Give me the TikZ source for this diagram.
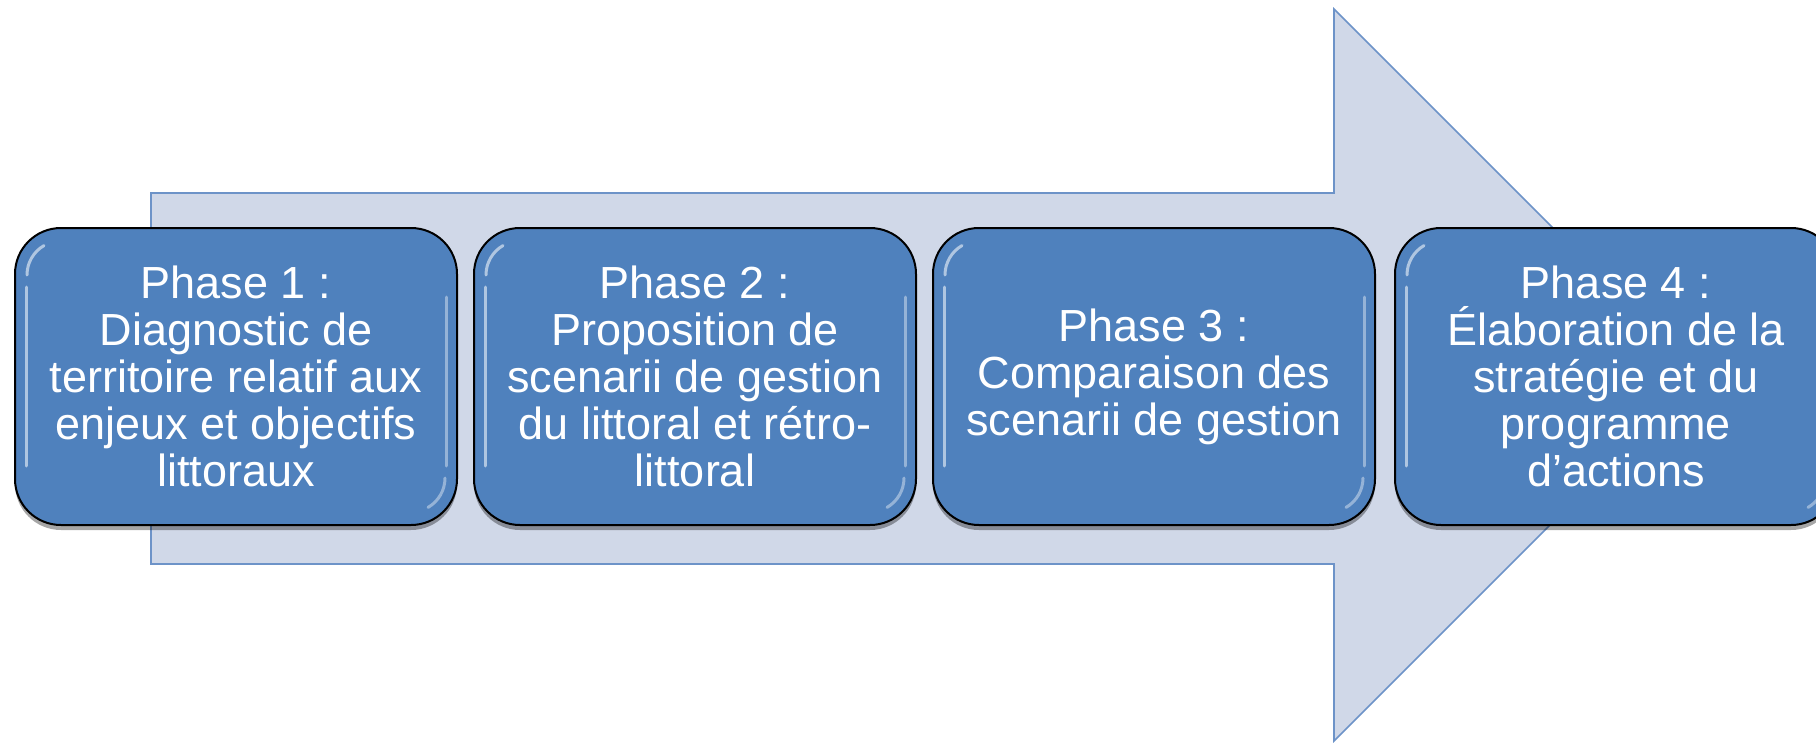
\documentclass[tikz,border=0pt]{standalone}
\usepackage{fontspec}
\setmainfont{Liberation Sans}
\usetikzlibrary{shadows}
\definecolor{boxblue}{HTML}{4F81BD}
\definecolor{arrowfill}{HTML}{D0D8E8}
\definecolor{arrowline}{HTML}{6D93C8}
\tikzset{
  phase/.style={draw=black, line width=2pt, fill=boxblue, rounded corners=46pt,
    minimum width=442pt, minimum height=297pt, inner sep=0pt,
    text=white, align=center, font=\fontsize{45}{47}\selectfont,
    drop shadow={shadow xshift=0pt, shadow yshift=-5pt, opacity=0.35, fill=black}},
  hl/.style={white, opacity=0.55, line width=3pt, line cap=round},
  bigarrow/.style={fill=arrowfill, draw=arrowline, line width=1.6pt, line join=miter}
}
\begin{document}
\begin{tikzpicture}[x=1pt,y=-1pt]
\useasboundingbox (0,0) rectangle (1816,744);
\fill[white] (0,0) rectangle (1816,744);
% big arrow
\draw[bigarrow] (151,193) -- (1334,193) -- (1334,9) -- (1700,375) -- (1334,741) -- (1334,564) -- (151,564) -- cycle;
% phases
\node[phase] (p1) at (236,376.5) {Phase 1 :\\Diagnostic de\\territoire relatif aux\\enjeux et objectifs\\littoraux};
\node[phase] (p2) at (695,376.5) {Phase 2 :\\Proposition de\\scenarii de gestion\\du littoral et rétro-\\littoral};
\node[phase] (p3) at (1154,376.5) {Phase 3 :\\Comparaison des\\scenarii de gestion};
\node[phase] (p4) at (1616,376.5) {Phase 4 :\\Élaboration de la\\stratégie et du\\programme\\d’actions};
% gloss highlights
\foreach \n in {p1,p2,p3,p4}{
  \draw[hl] ([xshift=12pt,yshift=-60pt]\n.north west) -- ([xshift=12pt,yshift=60pt]\n.south west);
  \draw[hl] ([xshift=13pt,yshift=-48pt]\n.north west) arc[start angle=180, end angle=120, radius=34pt];
  \draw[hl, opacity=0.4] ([xshift=-12pt,yshift=-70pt]\n.north east) -- ([xshift=-12pt,yshift=60pt]\n.south east);
  \draw[hl, opacity=0.4] ([xshift=-13pt,yshift=48pt]\n.south east) arc[start angle=0, end angle=-60, radius=34pt];
}
\end{tikzpicture}
\end{document}
